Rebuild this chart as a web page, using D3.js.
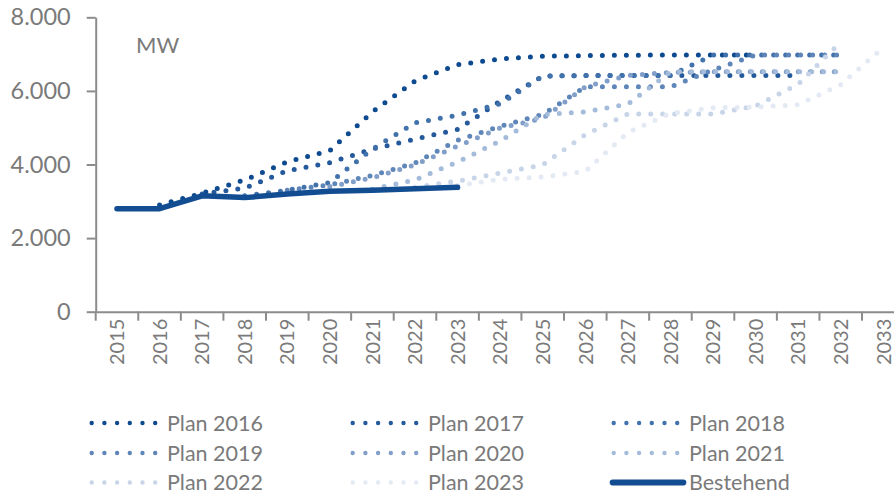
<!DOCTYPE html>
<html><head><meta charset="utf-8">
<script src="https://cdn.jsdelivr.net/npm/d3@7"></script>
<style>
html,body{margin:0;padding:0;background:#fff;}
svg{display:block;font-family:Lato, "Open Sans", sans-serif;}
</style></head>
<body><svg id="chart" width="894" height="496"></svg>
<script>
const years = ["2015","2016","2017","2018","2019","2020","2021","2022","2023","2024","2025","2026","2027","2028","2029","2030","2031","2032","2033"];
const yTicks = [0,2000,4000,6000,8000];
const plan2016 = [null,2900,3220,3580,4070,4380,5430,6270,6710,6870,6940,6960,6970,6975,6975,6975,null,null,null];
const plan2017 = [null,null,3200,3360,3830,4050,4420,4690,4950,5720,6400,6420,6420,6420,6420,6420,6420,null,null];
const plan2018 = [null,null,null,3150,3300,3510,4420,5130,5340,5650,6400,6420,6420,6420,6975,6975,6975,6975,null];
const plan2019 = [null,null,null,null,3300,3450,3700,4040,4660,5040,5360,6110,6110,6110,6570,6975,6975,6975,null];
const plan2020 = [null,null,null,null,null,3400,3640,3990,4500,4990,5250,6110,6420,6500,6520,6520,6520,6520,null];
const plan2021 = [null,null,null,null,null,null,3330,3580,4070,4640,5360,5430,5640,6520,6520,6520,6520,6520,null];
const plan2022 = [null,null,null,null,null,null,null,3380,3550,3770,3990,4810,5370,5370,5370,5590,6180,7330,null];
const plan2023 = [null,null,null,null,null,null,null,null,3430,3600,3660,3815,4870,5390,5540,5560,5625,6170,7180];
const bestehend = [2800,2800,3150,3100,3200,3270,3300,3340,3380,null,null,null,null,null,null,null,null,null,null];

const seriesNames = ["Plan 2016","Plan 2017","Plan 2018","Plan 2019","Plan 2020","Plan 2021","Plan 2022","Plan 2023","Bestehend"];
const seriesValues = [plan2016,plan2017,plan2018,plan2019,plan2020,plan2021,plan2022,plan2023,bestehend];
const seriesColors = ["#0e4a8f","#24599b","#4272ab","#5f86b9","#819fc8","#a4bbda","#c8d5e8","#e4eaf3","#124d91"];

const svg = d3.select("#chart");
const axisColor = "#8c8c8c", textColor = "#7a7a7a";

const x = d3.scaleBand().domain(years).range([95.7, 904.6]).padding(0);
const y = d3.scaleLinear().domain([0, 8000]).range([311.7, 17.3]);
const cx = d => x(d) + x.bandwidth() / 2;

// Y axis
const yAxis = svg.append("g").attr("transform", `translate(${x.range()[0]},0)`)
  .call(d3.axisLeft(y).tickValues(yTicks).tickSize(9).tickSizeOuter(0).tickPadding(16)
    .tickFormat(d => d3.format(",")(d).replace(/,/g, ".")));
yAxis.select(".domain").attr("stroke", axisColor).attr("stroke-width", 2);
yAxis.selectAll(".tick line").attr("stroke", axisColor).attr("stroke-width", 2);
yAxis.selectAll(".tick text").attr("fill", textColor).style("font-size", "23.5px").style("font-family", "Lato");

// X axis
const xAxis = svg.append("g").attr("transform", `translate(0,${y(0)})`)
  .call(d3.axisBottom(x).tickSize(0).tickSizeOuter(0).tickPadding(0));
xAxis.select(".domain").attr("stroke", axisColor).attr("stroke-width", 2);
xAxis.selectAll(".tick text")
  .attr("fill", textColor).style("font-size", "20px").style("font-family", "Lato")
  .attr("text-anchor", "end").attr("x", 0).attr("y", 0).attr("dy", "0.36em")
  .attr("transform", "translate(0,7) rotate(-90)");
// boundary tick marks between categories
const bounds = years.map(d => x(d)).concat([x(years[years.length - 1]) + x.bandwidth()]);
xAxis.selectAll(".btick").data(bounds).join("line").attr("class", "btick")
  .attr("x1", d => d).attr("x2", d => d).attr("y1", 0).attr("y2", 9)
  .attr("stroke", axisColor).attr("stroke-width", 2);

// Unit label
svg.append("text").attr("x", 136).attr("y", 53).text("MW")
  .attr("fill", textColor).style("font-size", "22px").style("font-family", "Lato");

// Lines
const line = d3.line().defined(d => d.v != null).x(d => cx(d.year)).y(d => y(d.v));
seriesNames.forEach((name, i) => {
  const data = years.map((yr, j) => ({year: yr, v: seriesValues[i][j]}));
  const isSolid = name === "Bestehend";
  svg.append("path").datum(data)
    .attr("d", line).attr("fill", "none")
    .attr("stroke", seriesColors[i])
    .attr("stroke-width", isSolid ? 5.5 : 5)
    .attr("stroke-linecap", "round").attr("stroke-linejoin", "round")
    .attr("stroke-dasharray", isSolid ? null : "0 12");
});

// Legend
const legX0 = 91.7, colStep = 261, rowY = [423, 453, 482.5];
seriesNames.forEach((name, i) => {
  const col = i % 3, row = Math.floor(i / 3);
  const lx = legX0 + col * colStep, ly = rowY[row];
  const g = svg.append("g");
  if (name === "Bestehend") {
    g.append("line").attr("x1", lx - 1).attr("x2", lx + 69.6)
      .attr("y1", ly).attr("y2", ly)
      .attr("stroke", seriesColors[i]).attr("stroke-width", 6).attr("stroke-linecap", "round");
  } else {
    g.append("line").attr("x1", lx).attr("x2", lx + 64)
      .attr("y1", ly).attr("y2", ly)
      .attr("stroke", seriesColors[i]).attr("stroke-width", 4.4)
      .attr("stroke-linecap", "round").attr("stroke-dasharray", "0 12.7");
  }
  g.append("text").attr("x", lx + 75.3).attr("y", ly).attr("dy", "0.35em").text(name)
    .attr("fill", textColor).style("font-size", "21.5px").style("font-family", "Lato");
});
</script></body></html>
